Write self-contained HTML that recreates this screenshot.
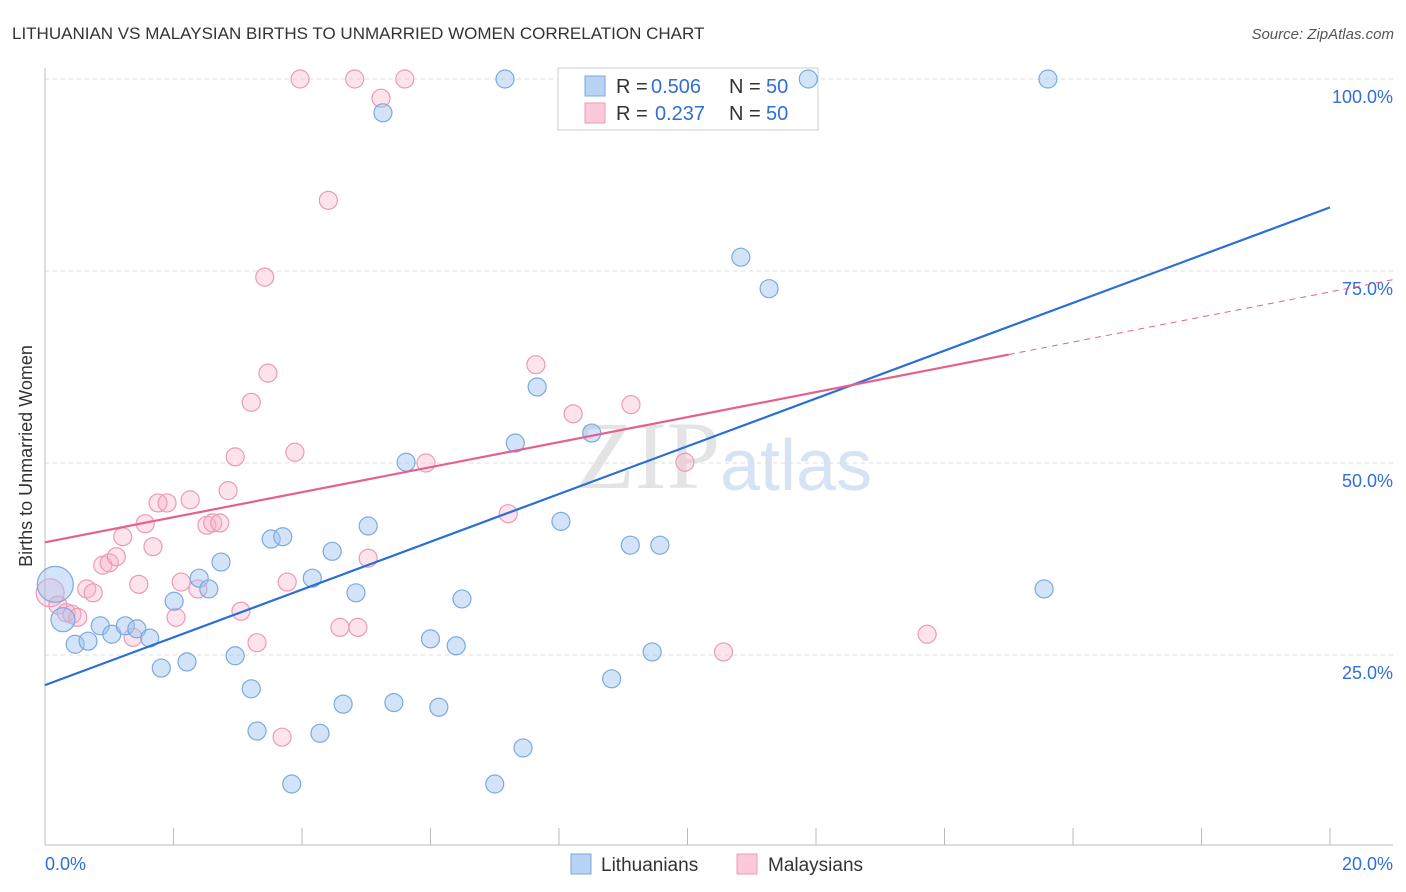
<!DOCTYPE html>
<html><head><meta charset="utf-8"><style>
body{margin:0;background:#fff;font-family:"Liberation Sans",sans-serif;}
svg{display:block}
</style></head><body>
<svg id="chart" width="1406" height="892">
<text x="12" y="39" font-size="17" fill="#333">LITHUANIAN VS MALAYSIAN BIRTHS TO UNMARRIED WOMEN CORRELATION CHART</text>
<text x="1394" y="39" font-size="15" fill="#555" text-anchor="end" font-style="italic">Source: ZipAtlas.com</text>
<text x="32" y="456" font-size="18" fill="#333" text-anchor="middle" transform="rotate(-90 32 456)">Births to Unmarried Women</text>
<text x="720" y="488" font-size="96" fill="#e4e4e4" text-anchor="end" font-family="Liberation Serif">ZIP</text>
<text x="720" y="490" font-size="72" fill="#d6e3f5">atlas</text>
<g id="grid"></g><g id="axes"></g>
<g>
<rect x="558" y="68" width="260" height="62" fill="#fff" stroke="#ccc"/>
<rect x="585" y="76" width="20" height="20" fill="#b9d3f5" stroke="#7aaae0"/>
<text x="616" y="93" font-size="20" fill="#333">R =</text>
<text x="651" y="93" font-size="20" fill="#2f6fd6">0.506</text>
<text x="729" y="93" font-size="20" fill="#333">N =</text>
<text x="766" y="93" font-size="20" fill="#2f6fd6">50</text>
<rect x="585" y="103" width="20" height="20" fill="#fbc9d8" stroke="#eb9ab5"/>
<text x="616" y="120" font-size="20" fill="#333">R =</text>
<text x="655" y="120" font-size="20" fill="#2f6fd6">0.237</text>
<text x="729" y="120" font-size="20" fill="#333">N =</text>
<text x="766" y="120" font-size="20" fill="#2f6fd6">50</text>
</g>
<g id="pts"></g><g id="lines"></g>
<g>
<rect x="571" y="854" width="20" height="20" fill="#b9d3f5" stroke="#7aaae0"/>
<text x="601" y="871" font-size="19" fill="#333">Lithuanians</text>
<rect x="737" y="854" width="20" height="20" fill="#fbc9d8" stroke="#eb9ab5"/>
<text x="768" y="871" font-size="19" fill="#333">Malaysians</text>
</g>
</svg>
<script>
const yTicks=[25,50,75,100];
const yTickLabels=["25.0%","50.0%","75.0%","100.0%"];
const xTicks=[0,2,4,6,8,10,12,14,16,18,20];
const xTickLabels=["0.0%","20.0%"];
const luX=[.16,.28,.47,.67,.86,1.04,1.25,1.43,1.63,1.81,2.01,2.21,2.40,2.55,2.74,2.96,3.21,3.30,3.52,3.70,4.16,4.28,3.84,4.47,4.64,4.84,5.03,5.26,5.43,5.62,6.00,6.13,6.40,6.49,7.00,7.16,7.32,7.44,7.66,8.03,8.51,8.82,9.11,9.45,9.57,10.83,11.27,11.88,15.55,15.61];
const luY=[34.2,29.6,26.4,26.8,28.8,27.7,28.8,28.4,27.2,23.3,32.0,24.1,35.0,33.6,37.1,24.9,20.6,15.1,40.1,40.4,35.0,14.8,8.2,38.5,18.6,33.1,41.8,95.6,18.8,50.1,27.1,18.2,26.2,32.3,8.2,100,52.6,12.9,59.9,42.4,53.9,21.9,39.3,25.4,39.3,76.8,72.7,100,33.6,100];
const maX=[.08,.20,.33,.42,.51,.65,.75,.90,1.00,1.11,1.21,1.37,1.46,1.56,1.68,1.76,1.90,2.04,2.12,2.26,2.38,2.52,2.61,2.72,2.85,2.96,3.05,3.21,3.30,3.42,3.47,3.69,3.77,3.89,3.97,4.41,4.59,4.82,4.87,5.03,5.23,5.60,5.93,7.21,7.64,8.22,9.12,9.96,10.56,13.73];
const maY=[33.1,31.5,30.5,30.3,29.9,33.6,33.1,36.7,37.0,37.8,40.4,27.3,34.2,42.1,39.1,44.8,44.8,29.9,34.5,45.2,33.6,41.9,42.2,42.2,46.4,50.8,30.7,57.9,26.6,74.2,61.7,14.3,34.5,51.4,100,84.2,28.6,100,28.6,37.6,97.5,100,50.0,43.4,62.8,56.4,57.6,50.1,25.4,27.7];
const luSize=[18,12];const maSize=[14];
const X=v=>45+v*64.25, Y=v=>847-v*7.68;
const NS="http://www.w3.org/2000/svg";
function mk(t,a,p){const e=document.createElementNS(NS,t);for(const k in a)e.setAttribute(k,a[k]);p.appendChild(e);return e;}
const grid=document.getElementById('grid'),axes=document.getElementById('axes'),pts=document.getElementById('pts'),lines=document.getElementById('lines');
mk('line',{x1:45,x2:1393,y1:Y(100),y2:Y(100),stroke:'#ddd','stroke-dasharray':'4,4'},grid);
yTicks.forEach((t,i)=>{
 const l=mk('line',{x1:45,x2:1393,y1:Y(t),y2:Y(t),stroke:'#ddd','stroke-dasharray':'4,4'},grid);
 
 
 const tx=mk('text',{x:1393,y:Y(t)+24,'font-size':18,fill:'#2f6fd6','text-anchor':'end'},axes);
 tx.textContent=yTickLabels[i];
 
 
});
mk('line',{x1:45,x2:45,y1:68,y2:845,stroke:'#bbb'},axes);
mk('line',{x1:45,x2:1393,y1:845,y2:845,stroke:'#bbb'},axes);
xTicks.forEach(t=>{const l=mk('line',{x1:X(t),x2:X(t),y1:828,y2:845,stroke:'#bbb'},axes);
 
 });
const xl0=mk('text',{x:45,y:870,'font-size':18,fill:'#2f6fd6'},axes);xl0.textContent=xTickLabels[0];


const xl1=mk('text',{x:1393,y:870,'font-size':18,fill:'#2f6fd6','text-anchor':'end'},axes);xl1.textContent=xTickLabels[1];


function drawPts(xs,ys,sz,fill,stroke,name){xs.forEach((x,i)=>{
 const c=mk('circle',{cx:X(x),cy:Y(ys[i]),r:sz[i]||9,fill:fill,stroke:stroke,'stroke-width':1.2},pts);
 
 });}
drawPts(maX,maY,maSize,'rgba(247,176,200,0.35)','#eb9ab5','malaysian-point');
drawPts(luX,luY,luSize,'rgba(160,196,240,0.45)','#7aaae0','lithuanian-point');
function reg(xs,ys){const n=xs.length;let sx=0,sy=0,sxx=0,sxy=0;for(let i=0;i<n;i++){sx+=xs[i];sy+=ys[i];sxx+=xs[i]*xs[i];sxy+=xs[i]*ys[i];}
 const b=(n*sxy-sx*sy)/(n*sxx-sx*sx);return [(sy-b*sx)/n,b];}
const [la,lb]=reg(luX,luY),[ma,mb]=reg(maX,maY);
const bl=mk('line',{x1:X(0),y1:Y(la),x2:X(20),y2:Y(la+lb*20),stroke:'#2a6fd6','stroke-width':2.2},lines);


const pl=mk('line',{x1:X(0),y1:Y(ma),x2:X(15),y2:Y(ma+mb*15),stroke:'#e5608f','stroke-width':2.2},lines);


const pd=mk('line',{x1:X(15),y1:Y(ma+mb*15),x2:X(21),y2:Y(ma+mb*21),stroke:'#e5608f','stroke-width':1,'stroke-dasharray':'6,5'},lines);


</script>
</body></html>
